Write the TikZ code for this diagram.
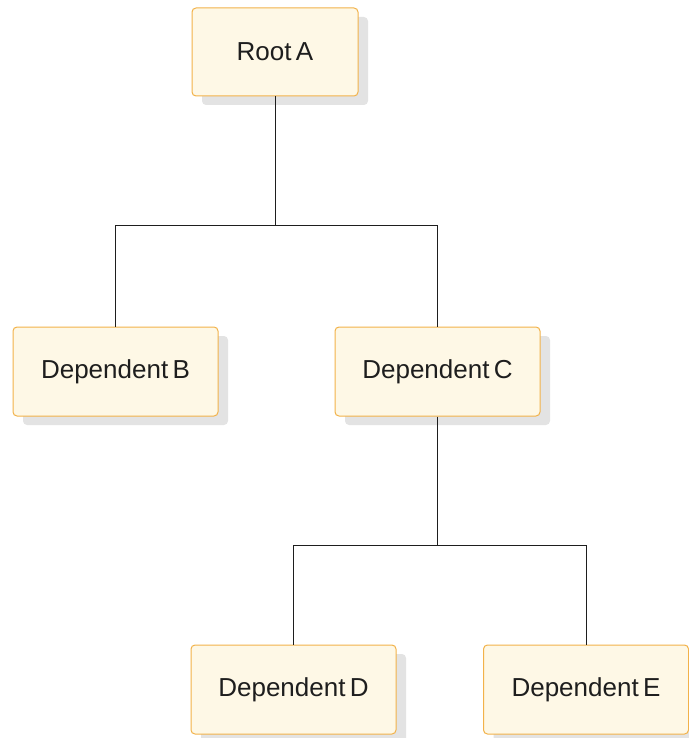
\documentclass[tikz,border=0pt]{standalone}
\usepackage{fontspec}
\setmainfont{Liberation Sans}
\usetikzlibrary{shadows}
\definecolor{cream}{HTML}{FEF8E6}
\definecolor{amber}{HTML}{F2B24A}
\definecolor{shade}{HTML}{E3E3E3}
\definecolor{ink}{HTML}{1E1E1E}
\begin{document}
\begin{tikzpicture}[x=1pt,y=-1pt,font=\fontsize{26}{31}\selectfont,
      box/.style={draw=amber,fill=cream,line width=1pt,rounded corners=4pt,
        minimum height=89pt,minimum width=205pt,text=ink,align=center,
        drop shadow={shadow xshift=10pt,shadow yshift=-9pt,fill=shade,opacity=1}},
      link/.style={draw=ink,line width=0.9pt}]
    \useasboundingbox (0,0) rectangle (688,738);
    \node[box,minimum width=166pt,minimum height=88pt] (rootA) at (275,52) {Root\,A};
    \node[box] (depB) at (115.5,371.5) {Dependent\,B};
    \node[box] (depC) at (437.5,371.5) {Dependent\,C};
    \node[box] (depD) at (293.5,689.5) {Dependent\,D};
    \node[box] (depE) at (586,689.5) {Dependent\,E};
    \coordinate (jA) at (275,225);
    \coordinate (jC) at (437.5,545);
    \draw[link] (rootA.south) -- (jA);
    \foreach \n in {depB,depC}{
      \draw[link] (jA) -| (\n.north);}
    \draw[link] (depC.south) -- (jC);
    \foreach \n in {depD,depE}{
      \draw[link] (jC) -| (\n.north);}
  \end{tikzpicture}
\end{document}
